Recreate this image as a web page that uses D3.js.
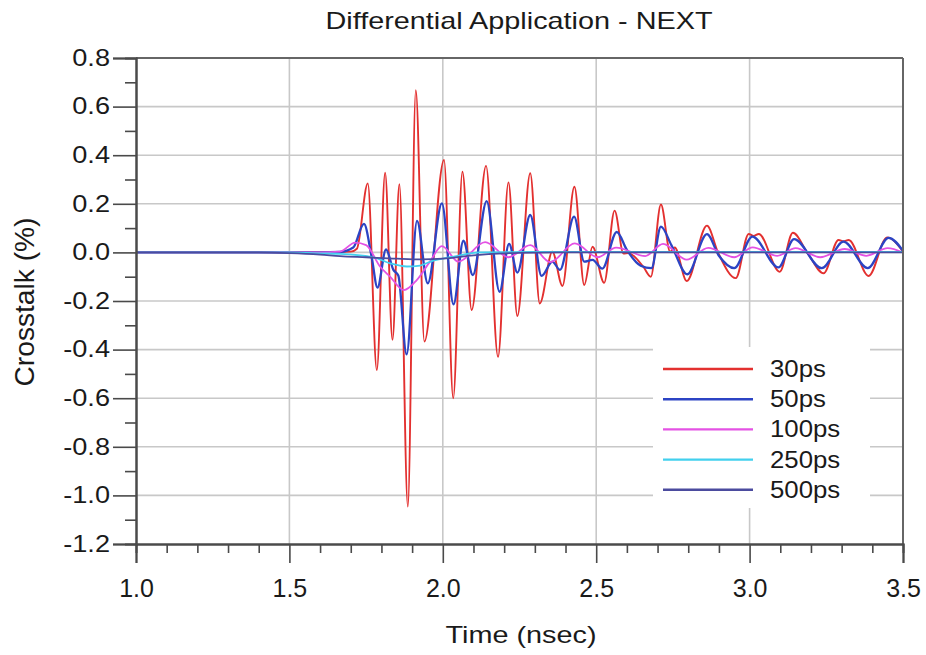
<!DOCTYPE html>
<html>
<head>
<meta charset="utf-8">
<script src="https://cdn.jsdelivr.net/npm/d3@7"></script>
<style>
  html, body { margin: 0; padding: 0; background: #ffffff; }
  svg { display: block; font-family: "Liberation Sans", Arial, sans-serif; }
</style>
</head>
<body>
<svg id="chart" width="926" height="655"></svg>
<script>
// ---------------- data ----------------
const seriesNames = ["30ps", "50ps", "100ps", "250ps", "500ps"];
const seriesColors = ["#e3302f", "#2c44c4", "#e452e4", "#42d0ee", "#4b4b9e"];

const t30 = [1.0, 1.6, 1.70, 1.72, 1.7555, 1.785, 1.812, 1.836, 1.8586, 1.886, 1.912, 1.94, 2.004, 2.034, 2.064, 2.094, 2.141, 2.18, 2.214, 2.243, 2.285, 2.316, 2.357, 2.39, 2.429, 2.461, 2.488, 2.526, 2.560, 2.589, 2.605, 2.654, 2.678, 2.711, 2.741, 2.756, 2.795, 2.861, 2.897, 2.955, 2.997, 3.013, 3.03, 3.098, 3.141, 3.19, 3.241, 3.29, 3.306, 3.323, 3.388, 3.448, 3.5];
const v30 = [0, 0, 0.003, 0.015, 0.284, -0.484, 0.328, -0.36, 0.281, -1.046, 0.668, -0.367, 0.38, -0.60, 0.332, -0.237, 0.356, -0.43, 0.288, -0.262, 0.326, -0.21, 0.003, -0.138, 0.27, -0.134, 0.023, -0.125, 0.172, -0.005, -0.003, -0.06, -0.10, 0.197, 0.003, 0.02, -0.118, 0.11, 0.0, -0.106, 0.076, 0.068, 0.076, -0.08, 0.081, -0.005, -0.086, 0.051, 0.046, 0.051, -0.097, 0.062, 0.004];

const t50 = [1.0, 1.6, 1.665, 1.708, 1.743, 1.768, 1.787, 1.815, 1.839, 1.855, 1.882, 1.916, 1.951, 1.997, 2.035, 2.067, 2.098, 2.143, 2.185, 2.216, 2.243, 2.285, 2.322, 2.357, 2.382, 2.428, 2.461, 2.488, 2.52, 2.567, 2.6, 2.645, 2.68, 2.711, 2.745, 2.797, 2.861, 2.90, 2.95, 3.009, 3.094, 3.145, 3.235, 3.306, 3.385, 3.453, 3.5];
const v50 = [0, 0, 0.002, 0.02, 0.117, -0.018, -0.145, 0.012, -0.072, -0.095, -0.42, 0.13, -0.127, 0.202, -0.214, 0.048, -0.093, 0.211, -0.162, 0.035, -0.083, 0.154, -0.097, -0.038, -0.072, 0.147, -0.038, -0.031, -0.067, 0.084, 0.01, -0.055, -0.065, 0.106, 0.03, -0.09, 0.075, -0.014, -0.065, 0.065, -0.062, 0.055, -0.065, 0.044, -0.065, 0.06, 0.006];

const t100 = [1.0, 1.6, 1.665, 1.714, 1.75, 1.796, 1.828, 1.873, 1.915, 1.958, 1.997, 2.051, 2.138, 2.214, 2.285, 2.35, 2.43, 2.505, 2.565, 2.66, 2.718, 2.795, 2.865, 2.95, 3.01, 3.09, 3.15, 3.23, 3.31, 3.38, 3.45, 3.5];
const v100 = [0, 0, 0.003, 0.04, 0.03, -0.059, -0.10, -0.155, -0.114, -0.038, 0.026, -0.038, 0.042, -0.02, 0.03, -0.04, 0.037, -0.02, 0.02, -0.015, 0.035, -0.03, 0.019, -0.02, 0.021, -0.014, 0.018, -0.02, 0.014, -0.014, 0.018, 0.0];

const t250 = [1.0, 1.5, 1.6, 1.665, 1.774, 1.828, 1.883, 1.926, 1.96, 2.04, 2.12, 2.3, 3.5];
const v250 = [0, 0, -0.004, -0.006, -0.02, -0.045, -0.058, -0.054, -0.038, -0.016, 0, 0.002, 0.002];

const t500 = [1.0, 1.4, 1.5, 1.6, 1.665, 1.75, 1.85, 1.93, 2.0, 2.1, 2.25, 2.4, 3.5];
const v500 = [0, 0, -0.003, -0.009, -0.015, -0.02, -0.026, -0.029, -0.026, -0.012, -0.002, 0, 0];

const xMajorTicks = [1.0, 1.5, 2.0, 2.5, 3.0, 3.5];
const xMinorTicks = [1.1, 1.2, 1.3, 1.4, 1.6, 1.7, 1.8, 1.9, 2.1, 2.2, 2.3, 2.4, 2.6, 2.7, 2.8, 2.9, 3.1, 3.2, 3.3, 3.4];
const yMajorTicks = [0.8, 0.6, 0.4, 0.2, 0.0, -0.2, -0.4, -0.6, -0.8, -1.0, -1.2];
const yMinorTicks = [0.7, 0.5, 0.3, 0.1, -0.1, -0.3, -0.5, -0.7, -0.9, -1.1];

const titleText = "Differential Application - NEXT";
const xLabel = "Time (nsec)";
const yLabel = "Crosstalk (%)";

// ---------------- drawing ----------------
const svg = d3.select("#chart");
const L = 136, R = 903, T = 58, B = 544;
const x = d3.scaleLinear().domain([1.0, 3.5]).range([L, R]);
const y = d3.scaleLinear().domain([-1.2, 0.8]).range([B, T]);
const fmt = d => d.toFixed(1);

function stretch(sel, k) {
  sel.each(function () {
    const w = this.getComputedTextLength();
    d3.select(this).attr("textLength", w * k).attr("lengthAdjust", "spacingAndGlyphs");
  });
}

svg.append("rect").attr("width", 926).attr("height", 655).attr("fill", "#ffffff");

// grid
const grid = svg.append("g").attr("stroke", "#c8c8c8").attr("stroke-width", 1.6);
grid.selectAll("line.gx").data(xMajorTicks.filter(d => d > 1.0 && d < 3.5)).join("line")
  .attr("x1", d => x(d)).attr("x2", d => x(d)).attr("y1", T).attr("y2", B);
grid.selectAll("line.gy").data(yMajorTicks.filter(d => d > -1.2 && d < 0.8)).join("line")
  .attr("x1", L).attr("x2", R).attr("y1", d => y(d)).attr("y2", d => y(d));

// series
const times = [t30, t50, t100, t250, t500];
const vals = [v30, v50, v100, v250, v500];
const widths = [1.9, 2.3, 1.8, 1.8, 1.8];
const line = d3.line().x(d => x(d[0])).y(d => y(d[1])).curve(d3.curveMonotoneX);
svg.append("clipPath").attr("id", "plotclip").append("rect")
  .attr("x", L).attr("y", T).attr("width", R - L).attr("height", B - T);
const plot = svg.append("g").attr("clip-path", "url(#plotclip)");
seriesNames.forEach((name, i) => {
  const pts = times[i].map((t, j) => [t, vals[i][j]]);
  plot.append("path").datum(pts)
    .attr("fill", "none")
    .attr("stroke", seriesColors[i])
    .attr("stroke-width", widths[i])
    .attr("stroke-linejoin", "round")
    .attr("d", line);
});

// frame: top and right border
svg.append("line").attr("x1", L).attr("x2", R).attr("y1", T).attr("y2", T)
  .attr("stroke", "#666").attr("stroke-width", 2);
svg.append("line").attr("x1", R).attr("x2", R).attr("y1", T).attr("y2", B)
  .attr("stroke", "#666").attr("stroke-width", 2);

// axes
const axisColor = "#4a4a4a";
const xAxis = svg.append("g").attr("transform", `translate(0,${B})`)
  .call(d3.axisBottom(x).tickValues(xMajorTicks).tickFormat(fmt).tickSize(19).tickPadding(16));
const xAxisMinor = svg.append("g").attr("transform", `translate(0,${B})`)
  .call(d3.axisBottom(x).tickValues(xMinorTicks).tickFormat("").tickSize(9));
const yAxis = svg.append("g").attr("transform", `translate(${L},0)`)
  .call(d3.axisLeft(y).tickValues(yMajorTicks).tickFormat(fmt).tickSize(23).tickPadding(3));
const yAxisMinor = svg.append("g").attr("transform", `translate(${L},0)`)
  .call(d3.axisLeft(y).tickValues(yMinorTicks).tickFormat("").tickSize(11));

[xAxis, xAxisMinor, yAxis, yAxisMinor].forEach(g => {
  g.select(".domain").attr("stroke", axisColor).attr("stroke-width", 2);
  g.selectAll(".tick line").attr("stroke", axisColor).attr("stroke-width", 1.6);
  g.selectAll("text").attr("fill", "#1a1a1a").style("font-family", "'Liberation Sans', Arial, sans-serif");
});
xAxis.selectAll("text").style("font-size", "25px");
yAxis.selectAll("text").style("font-size", "23px");
stretch(yAxis.selectAll("text"), 1.18);

// title and labels
const title = svg.append("text").attr("x", 519).attr("y", 29).attr("text-anchor", "middle")
  .style("font-size", "24px").attr("fill", "#1a1a1a").text(titleText);
title.attr("textLength", 387).attr("lengthAdjust", "spacingAndGlyphs");

const xl = svg.append("text").attr("x", 521).attr("y", 643).attr("text-anchor", "middle")
  .style("font-size", "24px").attr("fill", "#1a1a1a").text(xLabel);
xl.attr("textLength", 151).attr("lengthAdjust", "spacingAndGlyphs");

const yl = svg.append("text").attr("transform", "translate(34,302) rotate(-90)").attr("text-anchor", "middle")
  .style("font-size", "27px").attr("fill", "#1a1a1a").text(yLabel);
yl.attr("textLength", 169).attr("lengthAdjust", "spacingAndGlyphs");

// legend
const lg = svg.append("g");
lg.append("rect").attr("x", 653).attr("y", 347).attr("width", 217).attr("height", 161).attr("fill", "#ffffff");
seriesNames.forEach((name, i) => {
  const cy = 369 + i * 30.2;
  lg.append("line").attr("x1", 663).attr("x2", 753).attr("y1", cy).attr("y2", cy)
    .attr("stroke", seriesColors[i]).attr("stroke-width", 2.4);
  const t = lg.append("text").attr("x", 770).attr("y", cy + 8)
    .style("font-size", "23px").attr("fill", "#1a1a1a").text(name);
  stretch(t, 1.12);
});
</script>
</body>
</html>
